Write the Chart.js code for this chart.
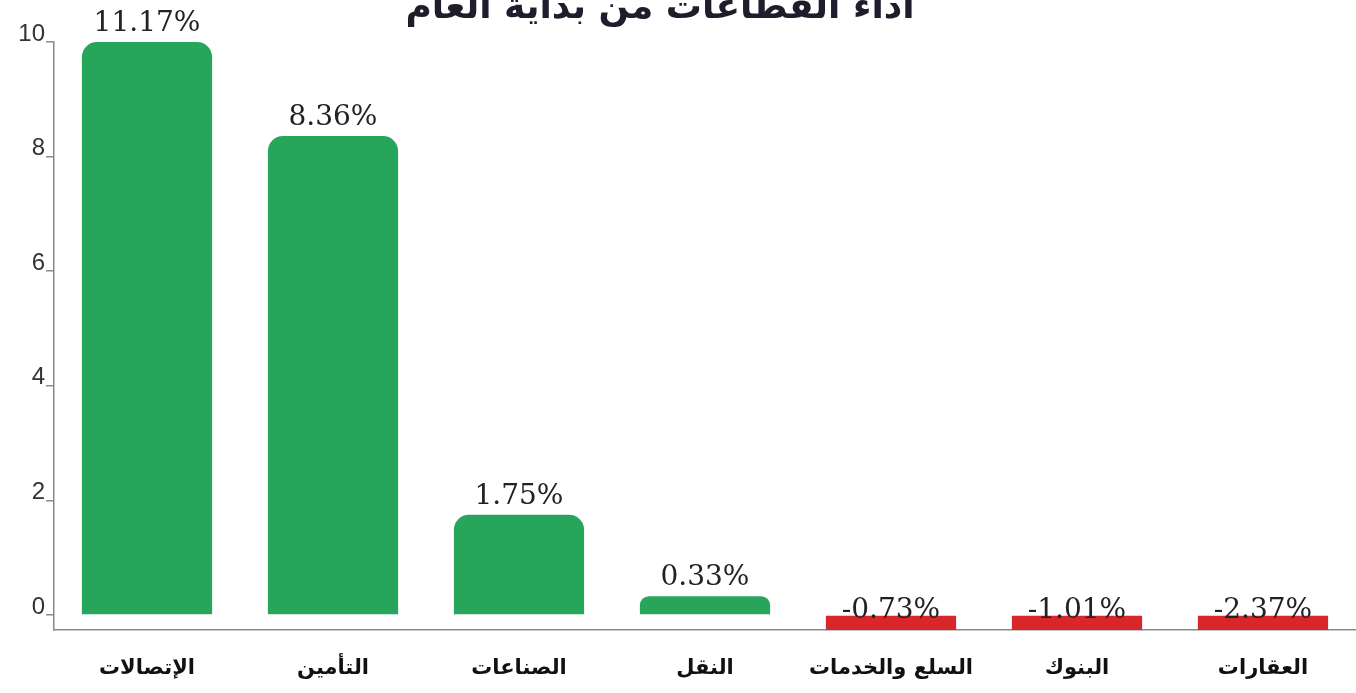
<!DOCTYPE html>
<html lang="ar">
<head>
<meta charset="UTF-8">
<title>أداء القطاعات من بداية العام</title>
<script src="https://cdn.jsdelivr.net/npm/chart.js"></script>
<style>
    html, body { margin: 0; padding: 0; background: #fff; }
    #wrap { width: 1356px; height: 693px; position: relative; }
</style>
</head>
<body>
<div id="wrap"><canvas id="sectorChart"></canvas></div>
<script>
// data
var sectors = ['الإتصالات', 'التأمين', 'الصناعات', 'النقل', 'السلع والخدمات', 'البنوك', 'العقارات'];
var changes = [11.17, 8.36, 1.75, 0.33, -0.73, -1.01, -2.37];
var yTicks = [0, 2, 4, 6, 8, 10];
var chartTitle = 'أداء القطاعات من بداية العام';

var yMax = 10;
var yMin = -0.26;
var green = '#27a65b';
var red = '#d8262a';

// the axis stops at 10, so the tallest bar is drawn at the top of the axis
var shown = changes.map(v => Math.min(v, yMax));

var titlePlugin = {
    id: 'titleText',
    afterDraw: function (chart) {
        var ctx = chart.ctx;
        ctx.save();
        ctx.font = 'bold 36px "DejaVu Sans"';
        ctx.fillStyle = '#1d1d2b';
        ctx.textAlign = 'center';
        ctx.textBaseline = 'alphabetic';
        ctx.fillText(chartTitle, 660, 18);
        ctx.restore();
    }
};

var valueLabels = {
    id: 'valueLabels',
    afterDatasetsDraw: function (chart) {
        var ctx = chart.ctx;
        var meta = chart.getDatasetMeta(0);
        var zeroY = chart.scales.y.getPixelForValue(0);
        ctx.save();
        ctx.font = '28px "DejaVu Serif"';
        ctx.fillStyle = '#222';
        ctx.textAlign = 'center';
        ctx.textBaseline = 'alphabetic';
        meta.data.forEach(function (bar, i) {
            var v = changes[i];
            var y = v >= 0 ? bar.y - 11 : zeroY + 3;
            ctx.fillText(v.toFixed(2) + '%', bar.x, y);
        });
        ctx.restore();
    }
};

var ctx = document.getElementById('sectorChart').getContext('2d');
var chart = new Chart(ctx, {
    type: 'bar',
    data: {
        labels: sectors,
        datasets: [{
            data: shown,
            backgroundColor: changes.map(v => v >= 0 ? green : red),
            borderWidth: 0,
            borderRadius: 15,
            borderSkipped: 'start',
            barPercentage: 0.7,
            categoryPercentage: 1,
            clip: { left: false, right: false, top: false, bottom: 0 }
        }]
    },
    options: {
        responsive: true,
        maintainAspectRatio: false,
        animation: false,
        layout: { padding: { top: 42, right: 0, left: 0, bottom: 0 } },
        plugins: {
            legend: { display: false },
            tooltip: { enabled: false }
        },
        scales: {
            x: {
                grid: { display: true, drawOnChartArea: false, drawTicks: false },
                border: { color: '#8a8a8a', width: 1.5 },
                ticks: {
                    color: '#111',
                    padding: 26,
                    font: { family: 'DejaVu Sans', size: 21, weight: 'bold' }
                },
                afterFit: function (scale) { scale.height = 63; }
            },
            y: {
                min: yMin,
                max: yMax,
                grid: { drawOnChartArea: false, tickLength: 8, color: '#8a8a8a', lineWidth: 1.5 },
                border: { color: '#8a8a8a', width: 1.5 },
                ticks: {
                    color: '#333',
                    padding: 1,
                    labelOffset: -8,
                    font: { family: 'Liberation Sans', size: 24 }
                },
                afterBuildTicks: function (scale) {
                    scale.ticks = yTicks.map(v => ({ value: v }));
                },
                afterFit: function (scale) { scale.width = 54; }
            }
        }
    },
    plugins: [titlePlugin, valueLabels]
});
</script>
</body>
</html>
